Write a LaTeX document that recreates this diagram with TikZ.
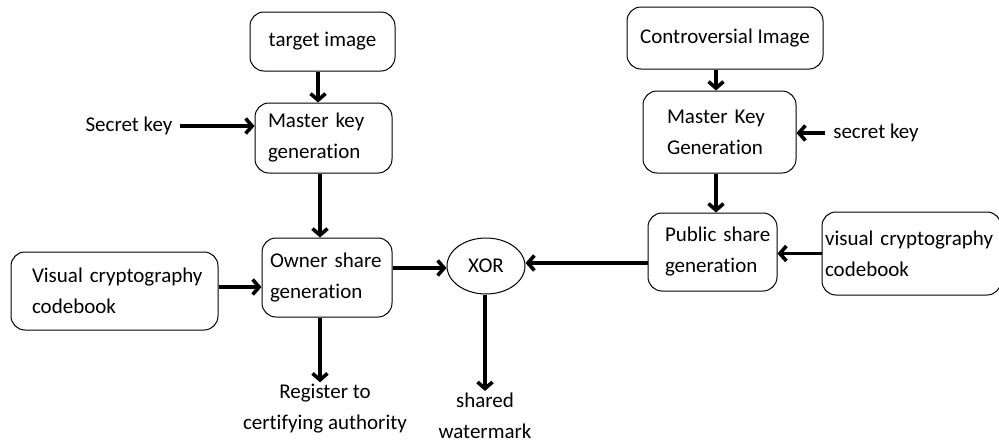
\documentclass[tikz,border=0pt]{standalone}
\usepackage{fontspec}
\setmainfont{Carlito}[Ligatures=CommonOff]
\usetikzlibrary{arrows.meta,shapes.geometric}
\newcommand\dfont{\fontsize{21pt}{31pt}\selectfont}
\tikzset{
  box/.style={draw, rounded corners=14pt, line width=1pt, inner ysep=0pt, font=\dfont},
  lbox/.style={box, align=left},
  txt/.style={font=\dfont, inner sep=2pt},
  arr/.style={line width=3.6pt, -{Straight Barb[length=6.5pt,width=15pt]}}
}
\begin{document}
\begin{tikzpicture}[x=1pt,y=-1pt]
\useasboundingbox (0,0) rectangle (999,442);
\fill[white] (0,0) rectangle (999,442);
\clip (0,0) rectangle (999,442);
% left column
\node[box, minimum width=145, minimum height=59, align=center] (tgt) at (322.5,41.5) {target image};
\node[lbox, minimum width=137, minimum height=70, text width=111, inner xsep=13pt] (mkg1) at (323.5,138) {\mbox{Master key}\\generation};
\node[lbox, minimum width=130, minimum height=79, text width=114, inner xsep=8pt] (own) at (327,277.5) {\mbox{Owner share}\\generation};
\node[lbox, minimum width=207, minimum height=78, text width=165, inner xsep=21pt] (vcb1) at (114.5,291) {\mbox{Visual cryptography}\\codebook};
\node[txt] (sk1) at (129,126) {Secret key};
\node[txt, align=center] (reg) at (325,409) {Register to\\certifying authority};
% XOR
\node[draw, ellipse, line width=1pt, minimum width=78, minimum height=56, font=\dfont, inner sep=0pt] (xor) at (486,266) {XOR};
\node[txt, align=center] (shw) at (485,416) {shared\\watermark};
% right column
\node[box, minimum width=196, minimum height=62, align=center] (ctr) at (725,38) {Controversial Image};
\node[lbox, minimum width=153, minimum height=82, text width=105, inner xsep=24pt] (mkg2) at (719.5,132) {\mbox{Master Key}\\Generation};
\node[txt] (sk2) at (876,133) {secret key};
\node[lbox, minimum width=129, minimum height=78, text width=95, inner xsep=17pt] (pub) at (712.5,252) {\mbox{Public share}\\generation};
\node[lbox, minimum width=179, minimum height=83, text width=173, inner xsep=3pt] (vcb2) at (911.5,253.5) {\mbox{visual cryptography}\\codebook};
% connectors
\draw[arr] ([xshift=-4.5pt]tgt.south) -- ([xshift=-5.5pt]mkg1.north);
\draw[arr] ([xshift=5pt]sk1.east) -- (sk1.east -| mkg1.west);
\draw[arr] ([xshift=-3.5pt]mkg1.south) -- ([xshift=-7pt]own.north);
\draw[arr] ([yshift=4pt]vcb1.east) -- ([yshift=4pt]vcb1.east -| own.west);
\draw[arr] ([yshift=9.5pt]own.east) -- ([yshift=9.5pt]own.east -| xor.west);
\draw[arr] ([xshift=-7pt]own.south) -- ([xshift=-5pt]reg.north);
\draw[arr] ([xshift=-1pt]xor.south) -- (shw.north);
\draw[arr] ([xshift=-9pt]ctr.south) -- ([xshift=-3.5pt]mkg2.north);
\draw[arr] ([xshift=-6pt]sk2.west) -- (sk2.west -| mkg2.east);
\draw[arr] ([xshift=-3.5pt]mkg2.south) -- ([xshift=3.5pt]pub.north);
\draw[arr] (vcb2.west) -- (vcb2.west -| pub.east);
\draw[arr] ([yshift=-11pt]pub.west) -- ([yshift=-11pt]pub.west -| xor.east);
\end{tikzpicture}
\end{document}
